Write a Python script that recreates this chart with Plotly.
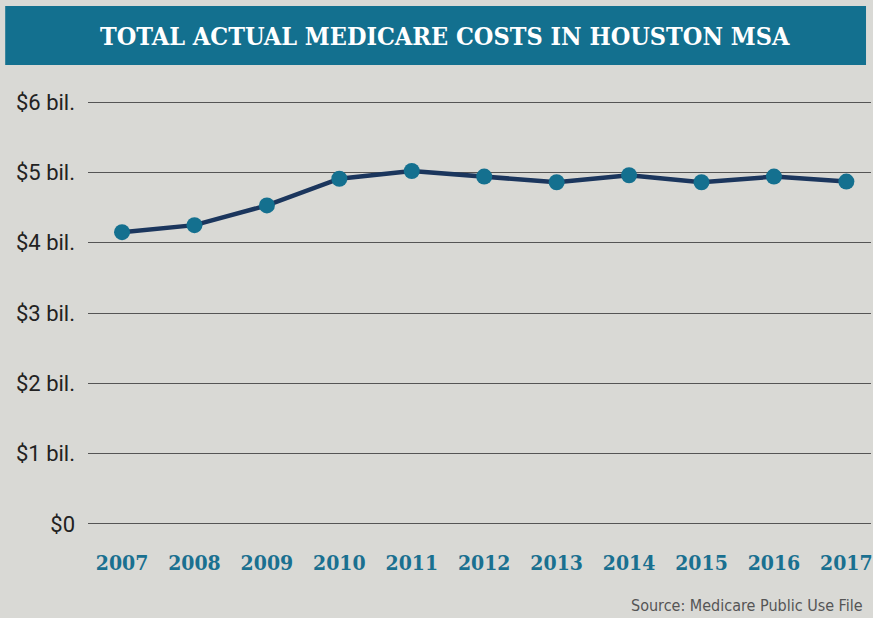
import plotly.graph_objects as go

# data (billions of dollars)
years = [2007, 2008, 2009, 2010, 2011, 2012, 2013, 2014, 2015, 2016, 2017]
costs = [4.15, 4.25, 4.53, 4.91, 5.02, 4.94, 4.86, 4.96, 4.86, 4.94, 4.87]
y_ticks = [0, 1, 2, 3, 4, 5, 6]
y_labels = ["$0", "$1 bil.", "$2 bil.", "$3 bil.", "$4 bil.", "$5 bil.", "$6 bil."]

title_text = "TOTAL ACTUAL MEDICARE COSTS IN HOUSTON MSA"
source_text = "Source: Medicare Public Use File"

W, H = 873, 618
ML, MR, MT, MB = 88, 0, 100, 92
pw = W - ML - MR
ph = H - MT - MB


def px(x):
    return (x - ML) / pw


def py(y):
    return (H - MB - y) / ph


fig = go.Figure()
fig.add_trace(go.Scatter(
    x=years, y=costs, mode="lines+markers",
    line=dict(color="#1b365d", width=4.5),
    marker=dict(color="#14708f", size=16),
    hoverinfo="x+y", cliponaxis=False,
))

# title band
fig.add_shape(type="rect", xref="paper", yref="paper",
              x0=px(5), x1=px(868), y0=py(65), y1=py(6),
              fillcolor="#13708f", line_width=0, layer="below")
fig.add_annotation(xref="paper", yref="paper", x=px(446), y=py(36),
                   text="<b>" + title_text + "</b>", showarrow=False,
                   font=dict(family="DejaVu Serif Condensed", size=25, color="white"),
                   xanchor="center", yanchor="middle")
fig.add_annotation(xref="paper", yref="paper", x=px(867), y=py(605),
                   text=source_text, showarrow=False,
                   font=dict(family="DejaVu Sans Condensed", size=16, color="#555555"),
                   xanchor="right", yanchor="middle")

fig.update_layout(
    width=W, height=H,
    margin=dict(l=ML, r=MR, t=MT, b=MB),
    paper_bgcolor="#d9d9d5", plot_bgcolor="#d9d9d5",
    showlegend=False,
    xaxis=dict(range=[2006.53, 2017.34], tickmode="array", tickvals=years,
               ticktext=[f"<b>{y}</b>" for y in years],
               tickfont=dict(family="DejaVu Serif Condensed", size=21, color="#1a7090"),
               showgrid=False, zeroline=False, showline=False, ticks="",
               ticklabelstandoff=22, ticklabeloverflow="allow"),
    yaxis=dict(range=[-0.03, 6.03], tickmode="array", tickvals=y_ticks, ticktext=y_labels,
               tickfont=dict(family="Roboto", size=22, color="#222222"),
               showgrid=True, gridcolor="#555555", gridwidth=1.3,
               zeroline=False, showline=False, ticks="", ticklabelstandoff=12),
)

fig.write_html("out.html", config={"displayModeBar": False},
               post_script="document.body.style.margin='0';")
